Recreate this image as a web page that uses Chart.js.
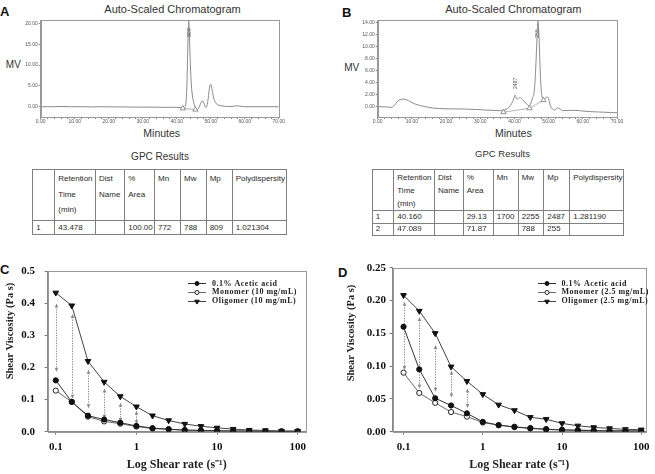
<!DOCTYPE html>
<html><head><meta charset="utf-8">
<script src="https://cdn.jsdelivr.net/npm/chart.js@4.4.1/dist/chart.umd.min.js"></script>
<style>
html,body{margin:0;padding:0;background:#fff;}
#root{position:relative;width:655px;height:474px;overflow:hidden;font-family:"Liberation Sans",Arial,sans-serif;color:#333;}
canvas{position:absolute;}
.t{position:absolute;white-space:nowrap;transform:translate(-50%,-50%);line-height:1;}
.letter{position:absolute;font-weight:bold;font-size:13px;color:#111;line-height:1;}
table.gpc{position:absolute;border-collapse:collapse;table-layout:fixed;font-family:"Liberation Sans",Arial,sans-serif;font-size:8px;color:#2a2a2a;}
table.gpc td{border:1px solid #808080;padding:0 0 0 3px;overflow:hidden;white-space:nowrap;}
</style></head>
<body><div id="root">
<div class="letter" style="left:0px;top:5px;">A</div>
<div class="letter" style="left:342px;top:6px;">B</div>
<div class="letter" style="left:0px;top:263px;">C</div>
<div class="letter" style="left:338px;top:266px;">D</div>
<div class="t" style="left:172.5px;top:8.5px;font-size:11px;">Auto-Scaled Chromatogram</div>
<div class="t" style="left:513.3px;top:8.5px;font-size:11px;">Auto-Scaled Chromatogram</div>
<div class="t" style="left:13.3px;top:65px;font-size:10px;">MV</div>
<div class="t" style="left:351.7px;top:68.3px;font-size:10px;">MV</div>
<div class="t" style="left:161.7px;top:133.3px;font-size:10.5px;">Minutes</div>
<div class="t" style="left:513.3px;top:133px;font-size:10.5px;">Minutes</div>
<div class="t" style="left:160px;top:157px;font-size:10px;">GPC Results</div>
<div class="t" style="left:502.5px;top:154px;font-size:9.5px;">GPC Results</div>
<canvas id="cA" width="325" height="145" style="left:0px;top:0px;"></canvas>
<canvas id="cB" width="330" height="145" style="left:325px;top:0px;"></canvas>
<canvas id="cC" width="330" height="219" style="left:0px;top:255px;"></canvas>
<canvas id="cD" width="330" height="219" style="left:325px;top:255px;"></canvas>
<div id="tabA"></div><div id="tabB"></div>
</div>
<script>
// ================= DATA =================
// Chromatogram axes
const chromTicksMin = [0,10,20,30,40,50,60,70];
const chromTickLabels = ['0.00','10.00','20.00','30.00','40.00','50.00','60.00','70.00'];

// Panel A chromatogram trace (minutes, MV)
const traceA_min = [0,3,6,9,12,15,18,21,24,27,30,33,36,39,41,41.8,42.3,42.7,43.0,43.2,43.4,43.55,43.7,43.9,44.1,44.3,44.6,45.0,45.4,45.8,46.2,46.6,47.0,47.5,47.9,48.3,48.7,49.0,49.3,49.6,49.9,50.2,50.5,50.9,51.4,52.0,53,54,56,57.5,58.5,60,63,66,70];
const traceA_mv  = [0,0,0.05,0,0,-0.05,0,-0.05,-0.05,-0.1,-0.1,-0.1,-0.15,-0.15,-0.2,-0.3,-0.2,0.8,5,12,18.5,20.6,18,13,8.5,5.2,2.8,1.0,0.0,-0.5,-0.6,-0.1,0.7,1.4,1.1,0.1,-0.2,0.6,2.2,4.3,5.4,5.0,3.6,2.0,1.0,0.5,0.25,0.1,0.05,0.2,0.15,0,0,0,0];
const baseA_min = [41.8, 45.5];
const baseA_mv  = [-0.4, -0.7];
const peakA_min = [43.7], peakA_mv = [17.8], peakA_text = ['809'];
const yTicksA = [0,5,10,15,20];
const yLabelsA = ['0.00','5.00','10.00','15.00','20.00'];

// Panel B chromatogram trace (minutes, MV)
const traceB_min = [0,2,4,5,5.6,6.5,7.5,8.5,9.5,11,12.5,14,16,18,21,24,26.5,29,31.5,34,35.5,37,38,38.8,39.5,40.0,40.2,40.5,40.9,41.6,42.3,43.0,43.7,44.3,44.8,45.3,45.7,46.1,46.5,46.85,47.2,47.5,47.8,48.1,48.6,49.1,49.6,50.0,50.5,51.2,51.8,52.5,53.2,54.2,56,58,60,62,64,66,68,70];
const traceB_mv  = [0,0,-0.1,0.3,0.8,1.15,1.3,1.15,0.85,0.45,0.2,0,-0.2,-0.3,-0.35,-0.35,-0.4,-0.45,-0.55,-0.6,-0.65,-0.55,-0.3,0.2,0.9,1.7,1.95,1.5,1.3,1.55,1.25,0.8,0.4,0.1,0.6,1.5,2.2,5.0,10.0,14.3,11.5,6.5,3.0,1.6,1.2,1.5,1.65,1.3,0.2,-0.4,-0.55,-0.2,-0.3,-0.65,-0.6,-0.6,-0.7,-0.8,-0.85,-0.9,-0.95,-1.0];
const baseB_min = [36.8, 44.4, 48.5];
const baseB_mv  = [-0.9, -0.25, 1.1];
const peakB_min = [40.2, 46.9], peakB_mv = [3.9, 12.2], peakB_text = ['2487','255'];
const yTicksB = [0,2,4,6,8,10,12,14];
const yLabelsB = ['0.00','2.00','4.00','6.00','8.00','10.00','12.00','14.00'];

// Panels C & D: shear viscosity vs shear rate
const shearRates = [0.1,0.158,0.251,0.398,0.631,1,1.585,2.512,3.981,6.31,10,15.85,25.12,39.81,63.1,100];
const xTickVals = [0.1,1,10,100];
const xTickLabels = ['0.1','1','10','100'];

const C_acetic   = [0.160,0.093,0.050,0.038,0.028,0.018,0.011,0.008,0.005,0.004,0.003,0.002,0.002,0.001,0.001,0.001];
const C_monomer  = [0.128,0.093,0.047,0.032,0.025,0.016,0.010,0.007,0.005,0.004,0.003,0.002,0.002,0.001,0.001,0.001];
const C_oligomer = [0.433,0.393,0.220,0.155,0.110,0.078,0.050,0.035,0.024,0.017,0.012,0.008,0.005,0.004,0.002,0.002];
const C_labels = ['0.1% Acetic acid','Monomer (10 mg/mL)','Oligomer (10 mg/mL)'];
const yTicksC = [0,0.1,0.2,0.3,0.4,0.5];
const yLabelsC = ['0.0','0.1','0.2','0.3','0.4','0.5'];
const arrowC_x = [0.1,0.158,0.251,0.398,0.631,1];
const arrowC_top = [0.400,0.367,0.193,0.135,0.090,0.065];
const arrowC_bot = [0.187,0.103,0.073,0.040,0.030,0.023];

const D_acetic   = [0.160,0.095,0.051,0.040,0.028,0.015,0.010,0.007,0.005,0.0035,0.0025,0.002,0.0015,0.001,0.001,0.001];
const D_monomer  = [0.090,0.059,0.044,0.030,0.023,0.014,0.010,0.0076,0.0056,0.004,0.003,0.0025,0.002,0.0015,0.0015,0.001];
const D_oligomer = [0.208,0.184,0.150,0.099,0.077,0.057,0.041,0.0325,0.022,0.019,0.0127,0.009,0.0066,0.005,0.0036,0.003];
const D_labels = ['0.1% Acetic acid','Monomer (2.5 mg/mL)','Oligomer (2.5 mg/mL)'];
const yTicksD = [0,0.05,0.10,0.15,0.20,0.25];
const yLabelsD = ['0.00','0.05','0.10','0.15','0.20','0.25'];
const arrowD_x = [0.1,0.158,0.251,0.398,0.631];
const arrowD_top = [0.198,0.175,0.132,0.093,0.066];
const arrowD_bot = [0.094,0.066,0.061,0.052,0.036];

const yTitleShear = 'Shear Viscosity (Pa s)';
const xTitleShear = 'Log Shear rate (s\u207B\u00B9)';

// GPC tables
const gpcHeader = ['', 'Retention<br>Time<br>(min)', 'Dist<br>Name', '%<br>Area', 'Mn', 'Mw', 'Mp', 'Polydispersity'];
const gpcRowsA = [['1','43.478','','100.00','772','788','809','1.021304']];
const gpcRowsB = [['1','40.160','','29.13','1700','2255','2487','1.281190'],['2','47.089','','71.87','','788','255','']];

// ================= TABLES =================
function buildTable(hostId, left, top, colW, headH, headLH, rowH, rows) {
  const t = document.createElement('table');
  t.className = 'gpc';
  t.style.left = left + 'px'; t.style.top = top + 'px';
  t.style.width = colW.reduce((a,b)=>a+b,0) + 'px';
  let html = '<colgroup>' + colW.map(w=>'<col style="width:'+w+'px">').join('') + '</colgroup>';
  html += '<tr style="height:'+headH+'px">' + gpcHeader.map(h=>'<td style="vertical-align:top;line-height:'+headLH+'px;padding-top:1px">'+h+'</td>').join('') + '</tr>';
  rows.forEach((r,i)=>{ html += '<tr style="height:'+rowH[i]+'px">' + r.map(c=>'<td style="vertical-align:middle;line-height:10px">'+c+'</td>').join('') + '</tr>'; });
  t.innerHTML = html;
  document.getElementById(hostId).appendChild(t);
}
buildTable('tabA', 32.3, 169, [22,40.7,29.3,29.7,26,25.7,26,54], 51, 15.5, [14.3], gpcRowsA);
buildTable('tabB', 371.7, 169, [21.6,40.7,28.7,30,25,25.6,26,53.4], 41, 13, [12.7,12], gpcRowsB);

// ================= PLUGINS =================
const framePlugin = { id:'frame', afterDatasetsDraw(chart, args, opts) {
  const a = chart.chartArea, c = chart.ctx;
  c.save(); c.strokeStyle = opts.color || '#999'; c.lineWidth = 1;
  c.strokeRect(Math.round(a.left)+0.5, Math.round(a.top)+0.5, Math.round(a.right)-Math.round(a.left), Math.round(a.bottom)-Math.round(a.top));
  c.restore();
}};
const peakPlugin = { id:'peaks', afterDatasetsDraw(chart, args, opts) {
  if (!opts.xs) return;
  const xs = chart.scales.x, ys = chart.scales.y, c = chart.ctx;
  c.save(); c.font = '5px "Liberation Sans"'; c.fillStyle = '#555'; c.textAlign = 'center'; c.textBaseline = 'middle';
  opts.xs.forEach((xv,i)=>{
    const px = xs.getPixelForValue(xv), py = ys.getPixelForValue(opts.ys[i]);
    c.save(); c.translate(px, py); c.rotate(-Math.PI/2); c.fillText(opts.texts[i], 0, 0); c.restore();
  });
  c.restore();
}};
const arrowPlugin = { id:'arrows', beforeDatasetsDraw(chart, args, opts) {
  if (!opts.xs) return;
  const xs = chart.scales.x, ys = chart.scales.y, c = chart.ctx;
  c.save(); c.strokeStyle = '#8a8a8a'; c.fillStyle = '#8a8a8a'; c.lineWidth = 1;
  opts.xs.forEach((xv,i)=>{
    const px = Math.round(xs.getPixelForValue(xv)) + 0.5;
    const y1 = ys.getPixelForValue(opts.top[i]), y2 = ys.getPixelForValue(opts.bot[i]);
    c.setLineDash([1.3,1.3]);
    c.beginPath(); c.moveTo(px, y1+3); c.lineTo(px, y2-3); c.stroke();
    c.setLineDash([]);
    c.beginPath(); c.moveTo(px, y1); c.lineTo(px-1.8, y1+4); c.lineTo(px+1.8, y1+4); c.closePath(); c.fill();
    c.beginPath(); c.moveTo(px, y2); c.lineTo(px-1.8, y2-4); c.lineTo(px+1.8, y2-4); c.closePath(); c.fill();
  });
  c.restore();
}};
const yTitlePlugin = { id:'ytitle', afterDraw(chart, args, opts) {
  if (!opts.text) return;
  const c = chart.ctx;
  c.save(); c.font = 'bold 10.5px "Liberation Serif"'; c.fillStyle = '#222'; c.textAlign = 'center'; c.textBaseline = 'middle';
  c.translate(opts.x, opts.y); c.rotate(-Math.PI/2); c.fillText(opts.text, 0, 0);
  c.restore();
}};
function drawMarker(c, style, x, y, r, fill, stroke) {
  c.beginPath();
  if (style === 'circle') { c.arc(x, y, r, 0, Math.PI*2); }
  else { const s = Math.sin(Math.PI/3)*r; c.moveTo(x, y+r); c.lineTo(x-s, y-r/2); c.lineTo(x+s, y-r/2); c.closePath(); }
  c.fillStyle = fill; c.fill(); c.strokeStyle = stroke; c.lineWidth = 1; c.stroke();
}
const legendPlugin = { id:'slegend', afterDraw(chart, args, opts) {
  if (!opts.rows) return;
  const c = chart.ctx;
  c.save();
  c.font = 'bold 8px "Liberation Serif"'; c.textBaseline = 'middle'; c.textAlign = 'left';
  try { c.letterSpacing = '0.5px'; } catch(e) {}
  chart.data.datasets.forEach((ds,i)=>{
    const y = opts.rows[i];
    c.strokeStyle = ds.borderColor; c.lineWidth = 1;
    c.beginPath(); c.moveTo(opts.x0, Math.round(y)+0.5); c.lineTo(opts.x1, Math.round(y)+0.5); c.stroke();
    drawMarker(c, ds.pointStyle, opts.xm, Math.round(y)+0.5, ds.pointStyle==='circle'?2:2.6, ds.pointBackgroundColor, ds.pointBorderColor);
    c.fillStyle = '#222'; c.fillText(ds.label, opts.tx, y+0.5);
  });
  c.restore();
}};

// ================= CHARTS =================
function chromChart(id, tx, ty, bx, by, pk, yTicks, yLabels, ymin, ymax, pad, yw, xh) {
  const minor = []; for (let v = 0; v <= 70; v += 2) minor.push(v);
  return new Chart(document.getElementById(id), {
    type:'line',
    data:{ datasets:[
      { data: bx.map((x,i)=>({x, y:by[i]})), borderColor:'#a0a0a0', borderWidth:0.8, pointStyle:'triangle', pointRadius:3,
        pointBackgroundColor:'#fff', pointBorderColor:'#777', pointBorderWidth:0.8 },
      { data: tx.map((x,i)=>({x, y:ty[i]})), borderColor:'#8a8a8a', borderWidth:1, pointRadius:0, cubicInterpolationMode:'monotone' }
    ]},
    options:{
      responsive:false, animation:false, devicePixelRatio:1,
      layout:{ padding: pad },
      plugins:{ legend:{display:false}, tooltip:{enabled:false}, title:{display:false}, peaks: pk },
      scales:{
        x:{ type:'linear', min:0, max:70,
          afterFit(s){ s.height = xh; },
          afterBuildTicks(s){ s.ticks = minor.map(v=>({value:v})); },
          ticks:{ autoSkip:false, maxRotation:0, padding:0, color:'#555', font:{size:5, family:'Liberation Sans'},
            callback:(v)=>{ const i = chromTicksMin.indexOf(v); return i>=0 ? chromTickLabels[i] : ''; } },
          grid:{ drawOnChartArea:false, tickLength:2, color:'#888' }, border:{ color:'#999' } },
        y:{ type:'linear', min:ymin, max:ymax,
          afterFit(s){ s.width = yw; },
          afterBuildTicks(s){ s.ticks = yTicks.map(v=>({value:v})); },
          ticks:{ autoSkip:false, padding:1, color:'#555', font:{size:5, family:'Liberation Sans'},
            callback:(v)=>{ const i = yTicks.indexOf(v); return i>=0 ? yLabels[i] : ''; } },
          grid:{ drawOnChartArea:false, tickLength:2, color:'#888' }, border:{ color:'#999' } }
      }
    },
    plugins:[framePlugin, peakPlugin]
  });
}
chromChart('cA', traceA_min, traceA_mv, baseA_min, baseA_mv, {xs:peakA_min, ys:peakA_mv, texts:peakA_text},
  yTicksA, yLabelsA, -2.47, 20.8, {left:0, top:20, right:46.3, bottom:0}, 40.7, 28);
chromChart('cB', traceB_min, traceB_mv, baseB_min, baseB_mv, {xs:peakB_min, ys:peakB_mv, texts:peakB_text},
  yTicksB, yLabelsB, -1.7, 14.45, {left:0, top:20, right:38, bottom:0}, 52.7, 28);

function shearChart(id, acetic, monomer, oligomer, labels, yTicks, yLabels, ymax, xmin, xmax, arrows, pad, yw, xh, yTitle, yTickPad, legend) {
  const mk = (vals)=> shearRates.map((x,i)=>({x, y:vals[i]}));
  return new Chart(document.getElementById(id), {
    type:'line',
    data:{ datasets:[
      { label:labels[0], data:mk(acetic), borderColor:'#333', borderWidth:1, pointStyle:'circle', pointRadius:2.6,
        pointBackgroundColor:'#111', pointBorderColor:'#111', pointBorderWidth:1 },
      { label:labels[1], data:mk(monomer), borderColor:'#6a6a6a', borderWidth:1, pointStyle:'circle', pointRadius:2.6,
        pointBackgroundColor:'#fff', pointBorderColor:'#222', pointBorderWidth:1 },
      { label:labels[2], data:mk(oligomer), borderColor:'#444', borderWidth:1, pointStyle:'triangle', pointRotation:180, pointRadius:3.3,
        pointBackgroundColor:'#111', pointBorderColor:'#111', pointBorderWidth:1 }
    ]},
    options:{
      responsive:false, animation:false, devicePixelRatio:1,
      layout:{ padding: pad },
      plugins:{ legend:{display:false}, tooltip:{enabled:false}, title:{display:false}, arrows: arrows, slegend: legend, ytitle: yTitle },
      scales:{
        x:{ type:'logarithmic', min:xmin, max:xmax,
          afterFit(s){ s.height = xh; },
          afterBuildTicks(s){ s.ticks = xTickVals.map(v=>({value:v})); },
          ticks:{ autoSkip:false, maxRotation:0, padding:5.4, color:'#111', font:{size:11, weight:'bold', family:'Liberation Serif'},
            callback:(v)=>{ const i = xTickVals.indexOf(v); return i>=0 ? xTickLabels[i] : ''; } },
          grid:{ drawOnChartArea:false, tickLength:3, color:'#777' }, border:{ color:'#888' },
          title:{ display:true, text:xTitleShear, color:'#222', font:{size:12, weight:'bold', family:'Liberation Serif'}, padding:{top:0, bottom:1.8} } },
        y:{ type:'linear', min:0, max:ymax,
          afterFit(s){ s.width = yw; },
          afterBuildTicks(s){ s.ticks = yTicks.map(v=>({value:v})); },
          ticks:{ autoSkip:false, padding:yTickPad, color:'#111', font:{size:11, weight:'bold', family:'Liberation Serif'},
            callback:(v)=>{ const i = yTicks.findIndex(t=>Math.abs(t-v)<1e-9); return i>=0 ? yLabels[i] : ''; } },
          grid:{ drawOnChartArea:false, tickLength:3, color:'#777' }, border:{ color:'#888' } }
      }
    },
    plugins:[framePlugin, arrowPlugin, legendPlugin, yTitlePlugin]
  });
}
shearChart('cC', C_acetic, C_monomer, C_oligomer, C_labels, yTicksC, yLabelsC, 0.5, 0.0794, 125.9,
  {xs:arrowC_x, top:arrowC_top, bot:arrowC_bot}, {left:0, top:10, right:24.3, bottom:0}, 47.7, 42.3,
  {text:yTitleShear, x:10, y:76}, 9.7,
  {rows:[28,36.8,45.6], x0:188, x1:206, xm:197, tx:212});
shearChart('cD', D_acetic, D_monomer, D_oligomer, D_labels, yTicksD, yLabelsD, 0.25, 0.073, 114,
  {xs:arrowD_x, top:arrowD_top, bot:arrowD_bot}, {left:0, top:12.7, right:6, bottom:0}, 67.7, 42.3,
  {text:yTitleShear, x:26.5, y:78}, 3.7,
  {rows:[28,36.8,45.6], x0:213, x1:231, xm:222, tx:236.5});
</script>
</body></html>
